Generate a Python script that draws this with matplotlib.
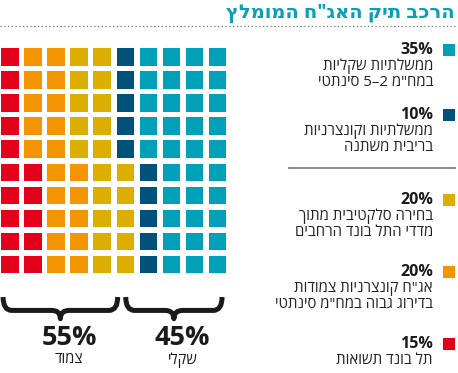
import matplotlib.pyplot as plt
from matplotlib.patches import Rectangle, PathPatch
from matplotlib.path import Path

plt.rcParams["font.family"] = ["Open Sans", "DejaVu Sans"]

# data
title = 'הרכב תיק האג"ח המומלץ'
shares = [35, 10, 20, 20, 15]
colors = ["#00a0b8", "#00527a", "#dbae00", "#f39500", "#e3001b"]
pct_labels = ["35%", "10%", "20%", "20%", "15%"]
descriptions = [
    ["ממשלתיות שקליות", 'במח"מ 2–5 סינתטי'],
    ["ממשלתיות וקונצרניות", "בריבית משתנה"],
    ["בחירה סלקטיבית מתוך", "מדדי התל בונד הרחבים"],
    ['אג"ח קונצרניות צמודות', 'בדירוג גבוה במח"מ סינתטי'],
    ["תל בונד תשואות"],
]
group_names = ["שקלי", "צמוד"]
group_shares = [45, 55]


def vis(s):
    # matplotlib has no bidi, so flip the hebrew for display
    return s[::-1]


W, H = 458, 373
fig = plt.figure(figsize=(W / 100, H / 100), dpi=100)

# overlay axes in pixel units for title / legend
ov = fig.add_axes([0, 0, 1, 1])
ov.set_xlim(0, W)
ov.set_ylim(H, 0)
ov.axis("off")

# waffle axes, one unit = one cell pitch
pitch = 23.1
cell = 17.5 / pitch
x0px, y0px = 1, 48
left_px, right_px, top_px, bot_px = 0, 240, 36, 373
ax = fig.add_axes([left_px / W, 1 - bot_px / H, (right_px - left_px) / W, (bot_px - top_px) / H])
ax.set_xlim((left_px - x0px) / pitch, (right_px - x0px) / pitch)
ax.set_ylim((bot_px - y0px) / pitch, (top_px - y0px) / pitch)
ax.axis("off")

# fill order: columns right to left, each top to bottom
order = [(c, r) for c in range(9, -1, -1) for r in range(10)]
k = 0
for share, col in zip(shares, colors):
    for _ in range(share):
        c, r = order[k]
        ax.add_patch(Rectangle((c, r), cell, cell, facecolor=col, edgecolor="none"))
        k += 1


def brace(a, xa, xb, ytop, yh, ycusp, r=0.38):
    xm = (xa + xb) / 2
    verts = [(xa, ytop), (xa, yh), (xa + r, yh),
             (xm - r, yh), (xm, yh), (xm, ycusp),
             (xm, yh), (xm + r, yh),
             (xb - r, yh), (xb, yh), (xb, ytop)]
    codes = [Path.MOVETO, Path.CURVE3, Path.CURVE3,
             Path.LINETO, Path.CURVE3, Path.CURVE3,
             Path.CURVE3, Path.CURVE3,
             Path.LINETO, Path.CURVE3, Path.CURVE3]
    a.add_patch(PathPatch(Path(verts, codes), facecolor="none", edgecolor="#1a1a1a",
                          lw=3.6, capstyle="butt", joinstyle="round"))


ytop, yh, ycusp = 10.78, 11.36, 11.72
# right group = shekel (45), left group = linked (55)
brace(ax, 0.09, 5.05, ytop, yh, ycusp)
brace(ax, 5.40, 9.57, ytop, yh, ycusp)
centers = [7.86, 2.95]
for cx, name, g in zip(centers, group_names, group_shares):
    ax.text(cx, 12.55, f"{g}%", ha="center", va="center", fontsize=19.5,
            fontweight="bold", color="#1a1a1a")
    ax.text(cx, 13.5, vis(name), ha="center", va="center", fontsize=10.5, color="#1a1a1a")

# title + dotted rule
ov.text(455, 13, vis(title), ha="right", va="center", fontsize=14,
        fontweight="bold", color="#0b9fb6")
ov.plot([0, W], [25.5, 25.5], color="#777777", lw=0.9, ls=(0, (1, 2)))

# legend
pct_y = [50, 115, 200, 272, 344]
for y, p, col, lines in zip(pct_y, pct_labels, colors, descriptions):
    ov.add_patch(Rectangle((443, y - 6), 12, 12, facecolor=col, edgecolor="none"))
    ov.text(433, y, p, ha="right", va="center", fontsize=11.5, fontweight="bold", color="#1a1a1a")
    for i, ln in enumerate(lines):
        ov.text(433, y + 16 + i * 16.5, vis(ln), ha="right", va="center", fontsize=10.8,
                color="#222222")
ov.plot([289, 455], [168, 168], color="#8a8a8a", lw=1.4)

fig.savefig("out.png", dpi=100)
